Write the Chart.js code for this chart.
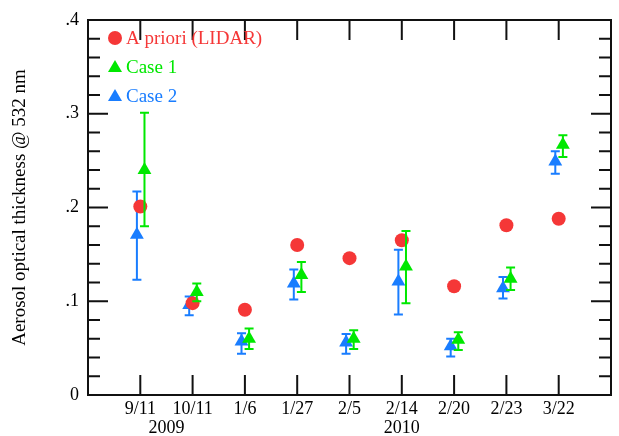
<!DOCTYPE html>
<html><head><meta charset="utf-8">
<script src="https://cdn.jsdelivr.net/npm/chart.js@4/dist/chart.umd.min.js"></script>
<style>html,body{margin:0;padding:0;background:#fff}</style>
</head><body>
<canvas id="c" width="619" height="436"></canvas>
<script>
// ---- data ----
const categories = ['9/11','10/11','1/6','1/27','2/5','2/14','2/20','2/23','3/22'];
const yearLabels = ['2009','2010'];
const yearAt = [1.5, 6];            // position on the category axis
const yTickLabels = ['0','.1','.2','.3','.4'];
const yTickValues = [0, 0.1, 0.2, 0.3, 0.4];

const apriori = [0.201,0.098,0.091,0.160,0.146,0.165,0.116,0.181,0.188];
const case1   = [0.240,0.110,0.060,0.128,0.060,0.137,0.059,0.124,0.267];
const case1Lo = [0.180,0.100,0.049,0.110,0.049,0.098,0.048,0.112,0.254];
const case1Hi = [0.301,0.119,0.071,0.142,0.069,0.175,0.067,0.136,0.277];
const case2   = [0.171,0.096,0.057,0.119,0.056,0.121,0.052,0.114,0.249];
const case2Lo = [0.123,0.085,0.044,0.102,0.044,0.086,0.041,0.103,0.236];
const case2Hi = [0.217,0.105,0.066,0.134,0.065,0.155,0.060,0.126,0.260];

// ---- style ----
const RED = 'rgb(245,55,55)', GREEN = 'rgb(0,232,0)', BLUE = 'rgb(25,125,255)';
const FONT = '"Liberation Serif","Times New Roman",serif';
const DODGE1 = 0.08, DODGE2 = -0.065;

const pts = (vals, d) => vals.map((v, i) => ({x: i + 1 + d, y: v}));

const errorBars = {
  id: 'errorBars',
  beforeDatasetDraw(chart, args) {
    const ds = chart.data.datasets[args.index];
    if (!ds.lo) return;
    const xs = chart.scales.x, ys = chart.scales.y, ctx = chart.ctx;
    ctx.save();
    ctx.strokeStyle = ds.backgroundColor; ctx.lineWidth = 2;
    ds.data.forEach((p, i) => {
      const x = xs.getPixelForValue(p.x);
      const a = ys.getPixelForValue(ds.lo[i]), b = ys.getPixelForValue(ds.hi[i]);
      ctx.beginPath();
      ctx.moveTo(x, a); ctx.lineTo(x, b);
      ctx.moveTo(x - 4.5, a); ctx.lineTo(x + 4.5, a);
      ctx.moveTo(x - 4.5, b); ctx.lineTo(x + 4.5, b);
      ctx.stroke();
    });
    ctx.restore();
  }
};

const frame = {
  id: 'frame',
  beforeDatasetsDraw(chart) {
    const {ctx, chartArea: ca} = chart;
    const xs = chart.scales.x, ys = chart.scales.y;
    ctx.save();
    ctx.strokeStyle = '#111'; ctx.lineWidth = 2;
    ctx.strokeRect(ca.left, ca.top, ca.right - ca.left, ca.bottom - ca.top);
    ctx.beginPath();
    categories.forEach((c, i) => {
      const x = xs.getPixelForValue(i + 1);
      ctx.moveTo(x, ca.bottom); ctx.lineTo(x, ca.bottom - 20);
      ctx.moveTo(x, ca.top); ctx.lineTo(x, ca.top + 20);
    });
    for (let k = 0; k <= 20; k++) {
      const y = ys.getPixelForValue(k * 0.02);
      const len = (k % 5 === 0) ? 20 : 12;
      ctx.moveTo(ca.left, y); ctx.lineTo(ca.left + len, y);
      ctx.moveTo(ca.right, y); ctx.lineTo(ca.right - len, y);
    }
    ctx.stroke();
    ctx.restore();
  },
  afterDraw(chart) {
    const {ctx, chartArea: ca} = chart;
    const xs = chart.scales.x;
    ctx.save();
    // year labels
    ctx.fillStyle = '#000';
    ctx.font = '18px ' + FONT;
    ctx.textAlign = 'center'; ctx.textBaseline = 'middle';
    yearLabels.forEach((t, i) => ctx.fillText(t, xs.getPixelForValue(yearAt[i]), ca.bottom + 33));
    // legend
    const items = [
      {t: 'A priori (LIDAR)', c: RED, s: 'circle'},
      {t: 'Case 1', c: GREEN, s: 'triangle'},
      {t: 'Case 2', c: BLUE, s: 'triangle'}
    ];
    ctx.font = '19px ' + FONT;
    ctx.textAlign = 'left';
    items.forEach((it, i) => {
      const x = ca.left + 27, y = ca.top + 18 + i * 29;
      ctx.fillStyle = it.c;
      ctx.beginPath();
      if (it.s === 'circle') { ctx.arc(x, y, 7, 0, Math.PI * 2); }
      else { ctx.moveTo(x, y - 7); ctx.lineTo(x + 7, y + 5); ctx.lineTo(x - 7, y + 5); ctx.closePath(); }
      ctx.fill();
      ctx.fillText(it.t, x + 11, y + 1);
    });
    ctx.restore();
  }
};

new Chart(document.getElementById('c'), {
  type: 'scatter',
  data: {
    datasets: [
      {label: 'Case 1', data: pts(case1, DODGE1), lo: case1Lo, hi: case1Hi,
       pointStyle: 'triangle', pointRadius: 8, pointHoverRadius: 8, backgroundColor: GREEN, borderWidth: 0, order: 1},
      {label: 'A priori (LIDAR)', data: pts(apriori, 0),
       pointStyle: 'circle', pointRadius: 7, pointHoverRadius: 7, backgroundColor: RED, borderWidth: 0, order: 2},
      {label: 'Case 2', data: pts(case2, DODGE2), lo: case2Lo, hi: case2Hi,
       pointStyle: 'triangle', pointRadius: 8, pointHoverRadius: 8, backgroundColor: BLUE, borderWidth: 0, order: 3}
    ]
  },
  options: {
    responsive: false, animation: false, devicePixelRatio: 1,
    layout: {padding: {top: 20, right: 2, left: 0, bottom: 0}},
    plugins: {legend: {display: false}, tooltip: {enabled: false}},
    scales: {
      x: {
        type: 'linear', min: 0, max: 10,
        afterBuildTicks: s => { s.ticks = categories.map((c, i) => ({value: i + 1})); },
        afterFit: s => { s.height = 41; },
        grid: {display: false, drawTicks: false}, border: {display: false},
        ticks: {autoSkip: false, maxRotation: 0, padding: 3, color: '#000',
                font: {family: FONT, size: 18},
                callback: v => categories[Math.round(v) - 1]}
      },
      y: {
        type: 'linear', min: 0, max: 0.4,
        afterBuildTicks: s => { s.ticks = yTickValues.map(v => ({value: v})); },
        afterFit: s => { s.width = 88; },
        grid: {display: false, drawTicks: false}, border: {display: false},
        ticks: {padding: 9, color: '#000', font: {family: FONT, size: 18},
                callback: v => yTickLabels[Math.round(v * 10)]},
        title: {display: true, text: 'Aerosol optical thickness @ 532 nm', color: '#000',
                font: {family: FONT, size: 19}, padding: {top: 9, bottom: 0}}
      }
    }
  },
  plugins: [errorBars, frame]
});
</script>
</body></html>
